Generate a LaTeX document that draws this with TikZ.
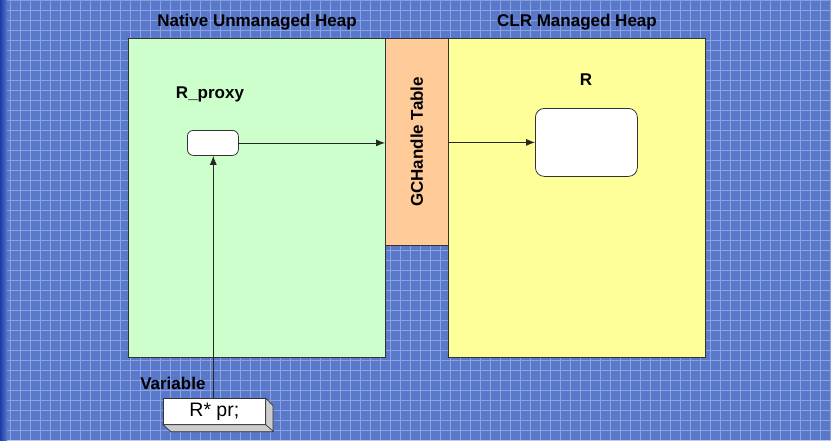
\documentclass[tikz,border=0pt]{standalone}
\usepackage{fontspec}
\setmainfont{Liberation Sans}
\usetikzlibrary{arrows.meta,positioning}
\definecolor{bgblue}{RGB}{90,120,202}
\definecolor{gridblue}{RGB}{160,182,232}
\definecolor{edgeblue}{RGB}{28,58,168}
\definecolor{nativegreen}{RGB}{204,255,204}
\definecolor{tableorange}{RGB}{255,204,153}
\definecolor{clryellow}{RGB}{255,255,153}
\definecolor{bevelgray}{RGB}{205,205,205}
\tikzset{
  heap/.style={draw=black!80, line width=0.8pt, anchor=north west, inner sep=0pt},
  title/.style={font=\fontsize{17}{20}\selectfont\bfseries, text=black},
  label/.style={font=\fontsize{17}{20}\selectfont\bfseries, text=black},
  objbox/.style={draw=black!80, fill=white, rounded corners=6pt, line width=0.8pt, anchor=north west, inner sep=0pt},
  link/.style={draw=black!85, line width=0.8pt, -{Latex[length=9pt,width=7pt]}},
}
\begin{document}
\begin{tikzpicture}[x=1pt,y=-1pt]
\useasboundingbox (0,0) rectangle (831,440);
% patterned blue backdrop
\fill[bgblue] (0,0) rectangle (831,440);
\draw[gridblue, line width=0.6pt, opacity=0.6] (0,0) grid[step=10pt] (831,440);
\draw[gridblue, line width=0.4pt, opacity=0.25] (5,5) grid[step=10pt] (831,440);
\shade[left color=edgeblue, right color=bgblue] (0,0) rectangle (7,440);

% the two heaps and the handle table between them
\node[heap, fill=nativegreen, minimum width=257pt, minimum height=319pt] (native) at (128,38) {};
\node[heap, fill=clryellow, minimum width=257pt, minimum height=319pt] (managed) at (448,38) {};
\node[heap, fill=tableorange, minimum width=63pt, minimum height=207pt] (table) at (385,38) {};
\node[label, rotate=90] (tabletext) at (table.center) {GCHandle Table};

% headings
\node[title] (nativetitle) at (257,22) {Native Unmanaged Heap};
\node[title] (managedtitle) at (577,22) {CLR Managed Heap};

% objects
\node[label] (proxytext) at (210,94) {R\_proxy};
\node[objbox, minimum width=51pt, minimum height=25pt] (proxy) at (187,130) {};
\node[label] (rtext) at (586,80) {R};
\node[objbox, rounded corners=9pt, minimum width=102pt, minimum height=68pt] (robj) at (535,108) {};

% stack variable drawn as a raised slab
\node[draw=black!80, fill=white, line width=0.7pt, minimum width=102pt, minimum height=26pt, anchor=north west, inner sep=0pt,
      font=\fontsize{19.5}{22}\selectfont] (var) at (163,398) {R* pr;};
\filldraw[fill=bevelgray, draw=black!80, line width=0.7pt]
  (var.south west) -- ++(8,7) -- ++(102,0) -- ++(0,-26) -- (var.north east) -- (var.south east) -- cycle;
\draw[black!80, line width=0.7pt] (var.south east) -- ++(8,7);
\node[label, anchor=south east] (vartext) at (209,393) {Variable};

% references
\coordinate (varref) at (213.3,398);
\draw[link] (varref) -- (varref |- proxy.south);
\draw[link] (proxy.east) -- (proxy.east -| table.west);
\draw[link] (table.east |- robj.west) -- (robj.west);
\end{tikzpicture}
\end{document}
